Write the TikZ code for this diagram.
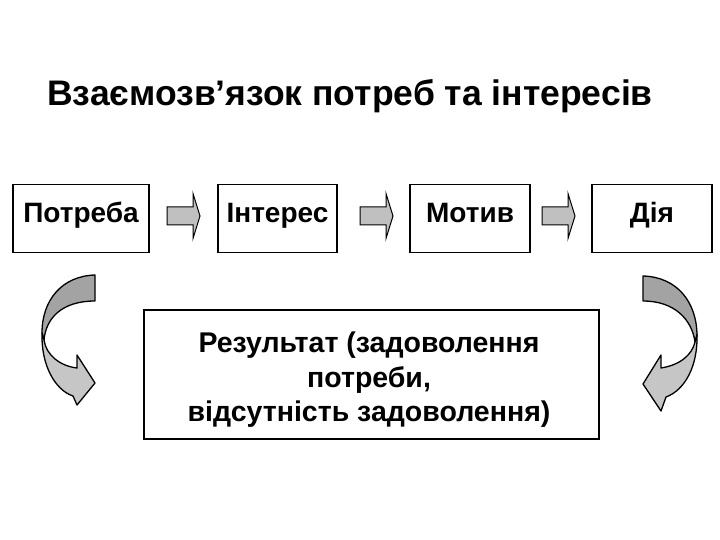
\documentclass[tikz,border=0pt]{standalone}
\usepackage{fontspec}
\setmainfont{Liberation Sans}
\definecolor{arrowgray}{HTML}{C0C0C0}
\definecolor{darkband}{HTML}{A3A3A3}
\definecolor{lightband}{HTML}{C6C6C6}
\tikzset{
  box/.style={draw, line width=1.6pt, minimum height=68pt, inner sep=0pt,
     text height=0.72em, text depth=0pt, font=\bfseries\fontsize{28}{32}\selectfont},
  barrow/.pic={\path[draw, line width=1pt, fill=arrowgray]
     (-16.5,-9) -- (9.5,-9) -- (9.5,-22.5) -- (16.5,0) -- (9.5,22.5) -- (9.5,9) -- (-16.5,9) -- cycle;},
  backband/.style={draw, line width=1.3pt, fill=darkband, line join=round},
  frontband/.style={draw, line width=1.3pt, fill=lightband, line join=round}
}
\begin{document}
\begin{tikzpicture}[x=1pt,y=-1pt]
\useasboundingbox (0,0) rectangle (720,540);
\node[font=\bfseries\fontsize{35.5}{40}\selectfont, anchor=base west, inner sep=0pt] (title) at (47,106) {Взаємозв’язок потреб та інтересів};
\node[box, minimum width=136pt] (p) at (81,218.5) {Потреба};
\node[box, minimum width=119pt] (i) at (277.5,218.5) {Інтерес};
\node[box, minimum width=120pt] (m) at (470,218.5) {Мотив};
\node[box, minimum width=120pt] (d) at (652,218.5) {Дія};
\node[draw, line width=1.6pt, minimum width=455pt, minimum height=129pt] (r) at (371.5,374.5) {};
\node[align=center, inner sep=0pt, font=\bfseries\fontsize{28.5}{34.5}\selectfont] (rt) at (369,380)
  {Результат (задоволення\\потреби,\\відсутність задоволення)};
\pic at (183.5,216) {barrow};
\pic at (376.5,216) {barrow};
\pic at (558.5,216) {barrow};
% left curved arrow
\path[backband] (95,275) .. controls (62,276) and (42,300) .. (42,333)
  -- (44,340) .. controls (46,318) and (62,301) .. (95,301) -- cycle;
\path[frontband] (42,333) .. controls (41,365) and (55,390) .. (73,396)
  -- (77,405) -- (95,383) -- (77,355) -- (77,368)
  .. controls (60,366) and (46,355) .. (44,340) -- cycle;
% right curved arrow
\path[backband] (643,276) .. controls (677,277) and (697,302) .. (697,336)
  -- (695,342) .. controls (692,320) and (675,301) .. (643,301) -- cycle;
\path[frontband] (697,334) .. controls (698,366) and (685,390) .. (666,397)
  -- (661,411) -- (643,384) -- (661,355) -- (661,368)
  .. controls (680,365) and (692,355) .. (695,342) -- cycle;
\end{tikzpicture}
\end{document}
